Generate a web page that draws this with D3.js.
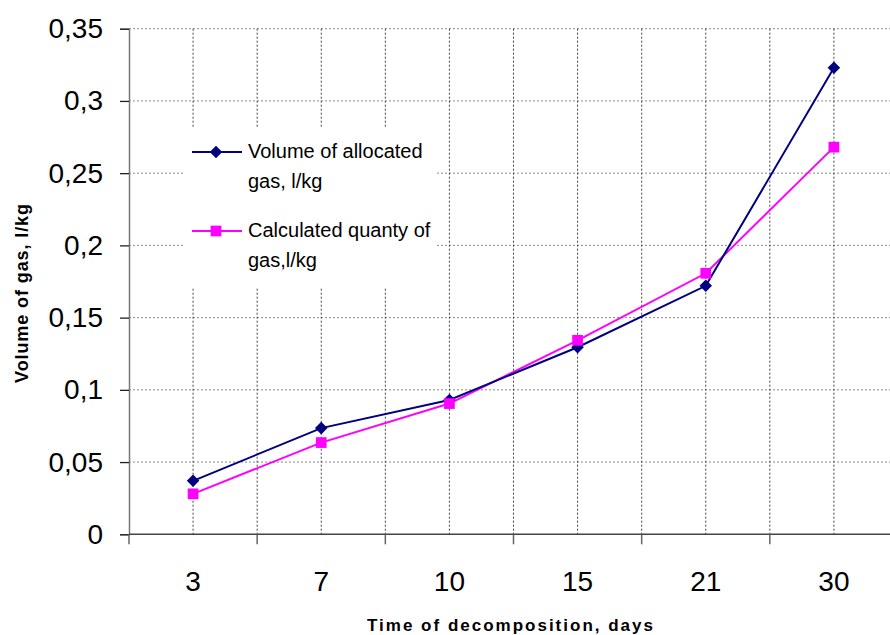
<!DOCTYPE html>
<html>
<head>
<meta charset="utf-8">
<script src="https://cdn.jsdelivr.net/npm/d3@7"></script>
<style>
  body { margin: 0; background: #fff; }
  svg { display: block; font-family: Arial, "Liberation Sans", sans-serif; }
</style>
</head>
<body>
<svg width="890" height="635"></svg>
<script>
"use strict";

// categories (days) and the two series
const days = ["3", "7", "10", "15", "21", "30"];
const allocated = [0.037, 0.0735, 0.093, 0.1295, 0.172, 0.323];
const calculated = [0.028, 0.0635, 0.0905, 0.1343, 0.1807, 0.268];
const yTicks = [0, 0.05, 0.1, 0.15, 0.2, 0.25, 0.3, 0.35];
const seriesNames = [
  ["Volume of allocated", "gas, l/kg"],
  ["Calculated quanty of", "gas,l/kg"]
];

const svg = d3.select("svg");

// plot area runs past the right edge of the window, as in the picture
const xScale = d3.scaleBand().domain(days).range([129, 898]);
const yScale = d3.scaleLinear().domain([0, 0.35]).range([534.3, 28.7]);
const cx = (d) => xScale(d) + xScale.bandwidth() / 2;
const fmt = (v) => (v === 0 ? "0" : String(v).replace(".", ","));

// horizontal grid
svg.append("g")
  .selectAll("line")
  .data(yTicks.slice(1))
  .enter()
  .append("line")
  .attr("x1", 129).attr("x2", 898)
  .attr("y1", (d) => yScale(d)).attr("y2", (d) => yScale(d))
  .attr("stroke", "#8a8a8a").attr("stroke-width", 1)
  .attr("stroke-dasharray", "2,2");

// vertical grid: band edges and category centres
const vx = [];
days.forEach((d, i) => {
  if (i > 0) vx.push(xScale(d));
  vx.push(cx(d));
});
svg.append("g")
  .selectAll("line")
  .data(vx)
  .enter()
  .append("line")
  .attr("x1", (d) => d).attr("x2", (d) => d)
  .attr("y1", yScale(0.35)).attr("y2", yScale(0))
  .attr("stroke", "#444").attr("stroke-width", 1)
  .attr("stroke-dasharray", "2,2");

// y axis
const yAxis = d3.axisLeft(yScale).tickValues(yTicks).tickSize(9).tickPadding(17).tickFormat(fmt);
const yg = svg.append("g").attr("transform", "translate(129,0)").call(yAxis);
yg.select(".domain").attr("stroke", "#777").attr("stroke-width", 1.5);
yg.selectAll(".tick line").attr("stroke", "#222").attr("stroke-width", 1.3);
yg.selectAll(".tick text").attr("font-size", 28).attr("fill", "#000")
  .attr("font-family", "Arial, 'Liberation Sans', sans-serif");

// x axis: ticks at band edges, labels at centres
const xg = svg.append("g").attr("transform", `translate(0,${yScale(0)})`);
xg.append("line").attr("x1", 129).attr("x2", 898).attr("stroke", "#444").attr("stroke-width", 1.5);
xg.selectAll("line.tk")
  .data(days.concat(["end"]))
  .enter()
  .append("line")
  .attr("class", "tk")
  .attr("x1", (d, i) => 129 + i * xScale.bandwidth())
  .attr("x2", (d, i) => 129 + i * xScale.bandwidth())
  .attr("y1", 0).attr("y2", 10)
  .attr("stroke", "#666").attr("stroke-width", 1.5);
xg.selectAll("text")
  .data(days)
  .enter()
  .append("text")
  .attr("x", cx)
  .attr("y", 57)
  .attr("text-anchor", "middle")
  .attr("font-size", 28)
  .text((d) => d);

// axis titles
svg.append("text")
  .attr("x", 511).attr("y", 631)
  .attr("text-anchor", "middle")
  .attr("font-size", 17).attr("font-weight", "bold")
  .attr("letter-spacing", 2)
  .text("Time of decomposition, days");

svg.append("text")
  .attr("transform", "translate(22,293) rotate(-90)")
  .attr("text-anchor", "middle")
  .attr("dy", "0.35em")
  .attr("font-size", 18).attr("font-weight", "bold")
  .attr("letter-spacing", 0.9)
  .text("Volume of gas, l/kg");

// series
const line = d3.line().x((d, i) => cx(days[i])).y((d) => yScale(d));

svg.append("path").datum(calculated)
  .attr("d", line).attr("fill", "none")
  .attr("stroke", "#ff00ff").attr("stroke-width", 2);
svg.append("path").datum(allocated)
  .attr("d", line).attr("fill", "none")
  .attr("stroke", "#000080").attr("stroke-width", 2);

const diamond = d3.symbol().type(d3.symbolDiamond2).size(100);
const square = d3.symbol().type(d3.symbolSquare).size(115);

svg.append("g").selectAll("path")
  .data(allocated).enter().append("path")
  .attr("d", diamond)
  .attr("transform", (d, i) => `translate(${cx(days[i])},${yScale(d)})`)
  .attr("fill", "#000080");

svg.append("g").selectAll("path")
  .data(calculated).enter().append("path")
  .attr("d", square)
  .attr("transform", (d, i) => `translate(${cx(days[i])},${yScale(d)})`)
  .attr("fill", "#ff00ff");

// legend
const lg = svg.append("g");
lg.append("rect").attr("x", 183).attr("y", 127).attr("width", 252).attr("height", 160).attr("fill", "#fff");
const legendItems = [
  { names: seriesNames[0], color: "#000080", sym: diamond, y: 152 },
  { names: seriesNames[1], color: "#ff00ff", sym: square, y: 231 }
];
legendItems.forEach((it) => {
  lg.append("line").attr("x1", 192).attr("x2", 242).attr("y1", it.y).attr("y2", it.y)
    .attr("stroke", it.color).attr("stroke-width", 2);
  lg.append("path").attr("d", it.sym).attr("transform", `translate(216,${it.y})`).attr("fill", it.color);
  const t = lg.append("text").attr("x", 248).attr("y", it.y + 6).attr("font-size", 20);
  it.names.forEach((s, k) => {
    t.append("tspan").attr("x", 248).attr("dy", k === 0 ? 0 : 30).text(s);
  });
});
</script>
</body>
</html>
